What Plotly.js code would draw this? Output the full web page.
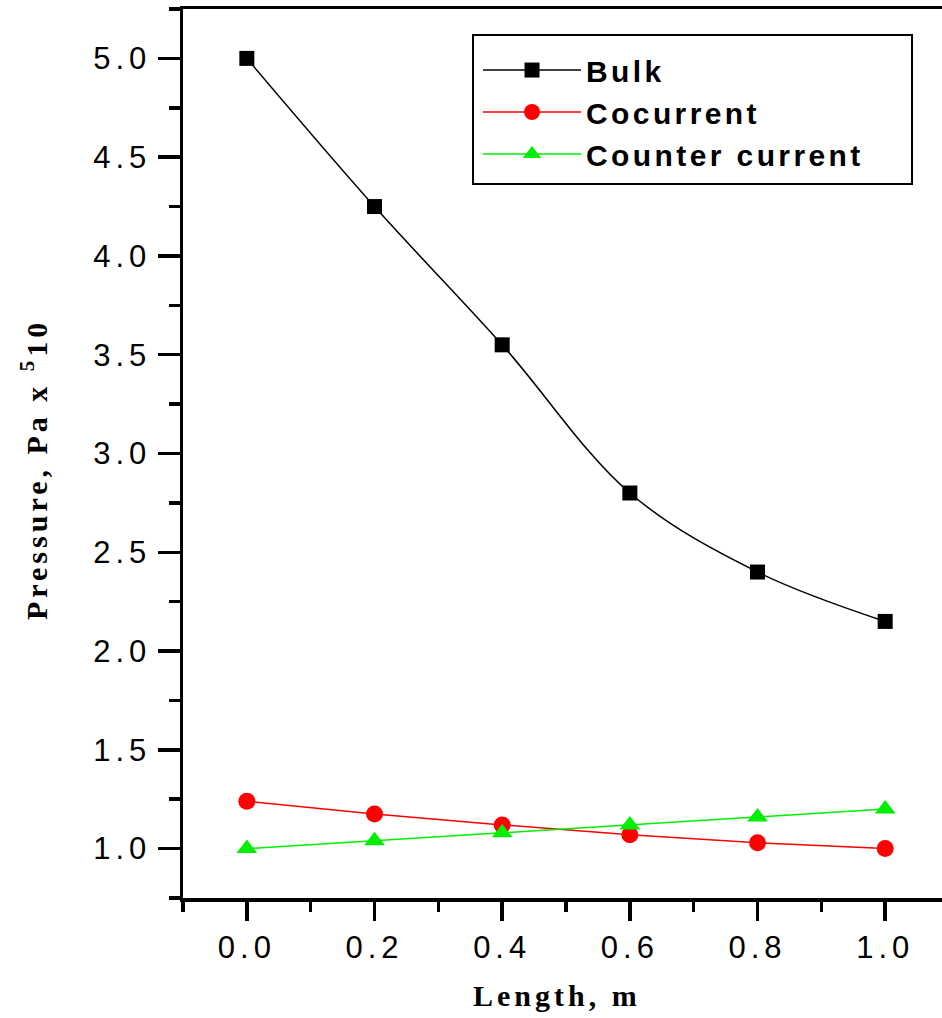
<!DOCTYPE html>
<html>
<head>
<meta charset="utf-8">
<script src="https://cdn.plot.ly/plotly-3.0.1.min.js"></script>
<style>
html,body{margin:0;padding:0;background:#fff;}
#chart{width:942px;height:1018px;}
.xtick text, .ytick text { letter-spacing: 5px; }
.legendtext { letter-spacing: 3.4px; }
.annotation-text { letter-spacing: 4px; }
</style>
</head>
<body>
<div id="chart"></div>
<script>
var lengthM = [0.0, 0.2, 0.4, 0.6, 0.8, 1.0];
var bulk = [5.0, 4.25, 3.55, 2.80, 2.40, 2.15];
var cocurrent = [1.24, 1.175, 1.12, 1.07, 1.03, 1.0];
var counterCurrent = [1.0, 1.04, 1.08, 1.12, 1.16, 1.20];
var seriesNames = ['Bulk', 'Cocurrent', 'Counter current'];
var xTitle = 'Length, m';
var yTitle = 'Pressure, Pa x <sup>5</sup>10';

var traces = [
  {x: lengthM, y: bulk, name: seriesNames[0], type: 'scatter', mode: 'lines+markers',
   line: {color: '#000000', width: 1.5, shape: 'spline', smoothing: 1},
   marker: {symbol: 'square', size: 15, color: '#000000'}},
  {x: lengthM, y: cocurrent, name: seriesNames[1], type: 'scatter', mode: 'lines+markers',
   line: {color: '#ff0000', width: 1.5},
   marker: {symbol: 'circle', size: 17, color: '#ff0000'}},
  {x: lengthM, y: counterCurrent, name: seriesNames[2], type: 'scatter', mode: 'lines+markers',
   line: {color: '#00ee00', width: 1.5},
   marker: {symbol: 'triangle-up', size: 18, color: '#00ee00'}}
];

var tickFont = {family: 'Liberation Sans, Arial, sans-serif', size: 31, color: '#000'};
var titleFont = {family: 'Liberation Serif, Times New Roman, serif', size: 30, color: '#000', weight: 'bold'};

var layout = {
  width: 942, height: 1018,
  margin: {l: 183, r: 0, t: 9, b: 120, pad: 0},
  paper_bgcolor: '#ffffff', plot_bgcolor: '#ffffff',
  showlegend: true,
  legend: {
    x: 0.3887, y: 0.9606, xanchor: 'left', yanchor: 'top',
    borderwidth: 0, bgcolor: 'rgba(0,0,0,0)',
    font: {family: 'Liberation Sans, Arial, sans-serif', size: 30, color: '#000', weight: 'bold'},
    tracegroupgap: 0, itemwidth: 98
  },
  shapes: [
    {type: 'rect', xref: 'paper', yref: 'paper', x0: 0.3821, x1: 0.9605, y0: 0.8031, y1: 0.9708,
     line: {color: '#000', width: 2}, fillcolor: 'rgba(0,0,0,0)', layer: 'above'}
  ],
  xaxis: {
    range: [-0.1, 1.089], tick0: 0, dtick: 0.2, tickformat: '.1f',
    showline: true, linecolor: '#000', linewidth: 3.5, mirror: true,
    ticks: 'outside', ticklen: 19, tickwidth: 3.5, tickcolor: '#000',
    minor: {dtick: 0.1, tick0: -0.1, ticks: 'outside', ticklen: 10, tickwidth: 3.5, tickcolor: '#000'},
    showgrid: false, zeroline: false,
    tickfont: tickFont
  },
  yaxis: {
    range: [0.75, 5.25], tick0: 0, dtick: 0.5, tickformat: '.1f',
    showline: true, linecolor: '#000', linewidth: 3.5, mirror: false,
    ticks: 'outside', ticklen: 22, tickwidth: 3.5, tickcolor: '#000',
    minor: {dtick: 0.25, tick0: 0, ticks: 'outside', ticklen: 11, tickwidth: 3.5, tickcolor: '#000'},
    showgrid: false, zeroline: false,
    tickfont: tickFont
  },
  annotations: [
    {text: xTitle, xref: 'paper', yref: 'paper', x: 0.4928, y: -0.1102,
     xanchor: 'center', yanchor: 'middle', showarrow: false, font: titleFont},
    {text: yTitle, xref: 'paper', yref: 'paper', x: -0.1963, y: 0.4814, textangle: -90,
     xanchor: 'center', yanchor: 'middle', showarrow: false, font: titleFont}
  ]
};

Plotly.newPlot('chart', traces, layout, {displayModeBar: false, staticPlot: true});
</script>
</body>
</html>
